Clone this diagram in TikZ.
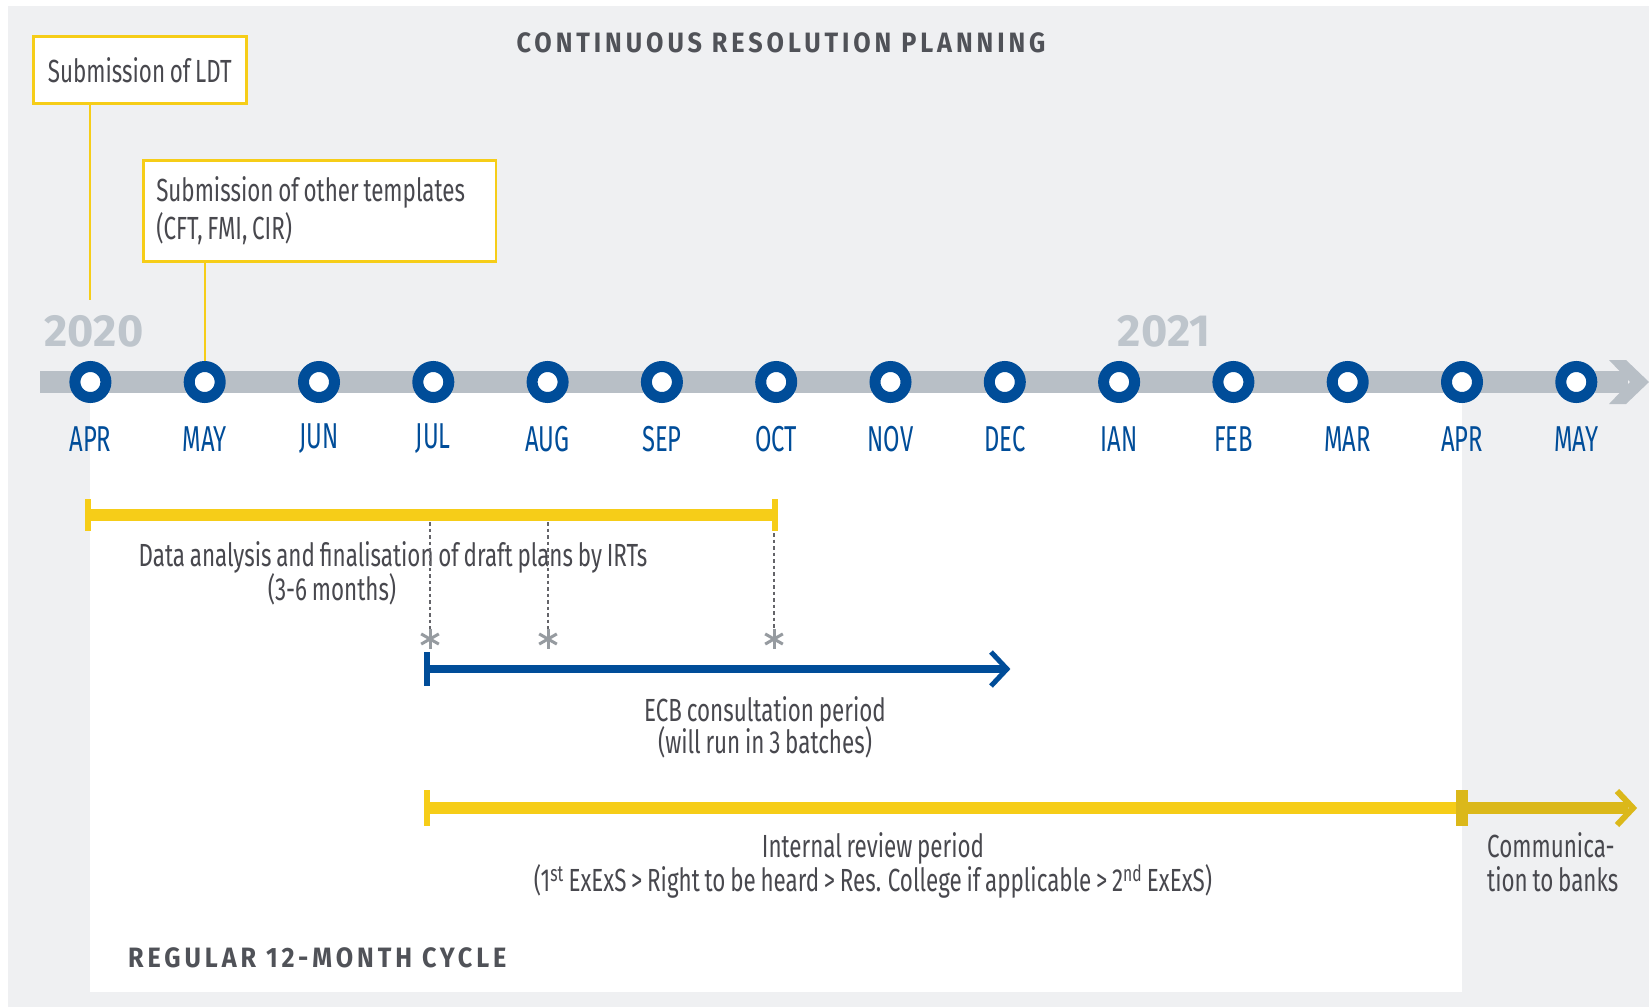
\documentclass[tikz,border=0pt]{standalone}
\usepackage{fontspec}
\setmainfont{Fira Sans}
\newfontfamily\condf[FakeStretch=0.70,WordSpace=0.8]{Fira Sans}
\newfontfamily\monthf[FakeStretch=0.66]{Fira Sans}
\newfontfamily\headf[FakeStretch=0.9,LetterSpace=14]{Fira Sans}
\newfontfamily\yearf{Fira Sans}
\definecolor{bggray}{RGB}{239,240,242}
\definecolor{bargray}{RGB}{184,191,198}
\definecolor{yeargray}{RGB}{190,197,204}
\definecolor{ecbblue}{RGB}{0,77,153}
\definecolor{ecbyellow}{RGB}{246,205,24}
\definecolor{ecbgold}{RGB}{219,184,26}
\definecolor{txt}{RGB}{72,72,78}
\definecolor{headtxt}{RGB}{80,82,88}
\definecolor{dashgray}{RGB}{100,100,105}
\definecolor{stargray}{RGB}{150,155,160}
\begin{document}
\begin{tikzpicture}[x=1pt,y=-1pt,
  body/.style={font=\condf\fontsize{32}{34}\selectfont, text=txt, inner sep=0pt},
  mlabel/.style={font=\monthf\fontsize{36}{36}\selectfont, text=ecbblue, inner sep=0pt},
  head/.style={font=\headf\bfseries\fontsize{28}{28}\selectfont, text=headtxt, inner sep=0pt},
  year/.style={font=\yearf\bfseries\fontsize{45}{45}\selectfont, text=yeargray, inner sep=0pt},
  mcircle/.style={circle, draw=ecbblue, line width=11pt, fill=white, minimum size=31pt, inner sep=0pt},
  ybox/.style={draw=ecbyellow, line width=2.5pt, fill=white, text=txt},
  boxline/.style={draw=ecbyellow, line width=2pt},
  ybar/.style={draw=ecbyellow, line width=12pt},
  gbar/.style={draw=ecbgold, line width=12pt},
  bbar/.style={draw=ecbblue, line width=8pt},
  ytick/.style={draw=ecbyellow, line width=6pt},
  btick/.style={draw=ecbblue, line width=6pt},
  dashline/.style={draw=dashgray, line width=1.3pt, dash pattern=on 3.5pt off 3pt},
  astk/.style={circle, minimum size=20pt, inner sep=0pt},
  astline/.style={draw=stargray, line width=3pt}
]
\useasboundingbox (0,0) rectangle (1649,1007);
\fill[white] (0,0) rectangle (1649,1007);
\fill[bggray] (8,6) rectangle (1649,1007);
\fill[white] (90.4,393) rectangle (1461.7,992);

% titles
\node[head, anchor=base] (title) at (781,52) {CONTINUOUS RESOLUTION PLANNING};
\node[head, anchor=base west] (cycle) at (128,967) {REGULAR 12-MONTH CYCLE};

% years
\node[year, anchor=base] (y2020) at (94,346) {2020};
\node[year, anchor=base] (y2021) at (1164,346) {2021};

% timeline bar
\coordinate (tl0) at (40,382);
\coordinate (tl1) at (1628,382);
\draw[bargray, line width=22pt] (tl0) -- (tl1);
\fill[bargray] (1609,360) -- (1626,360) -- (1649,382) -- (1626,404) -- (1609,404) -- (1630,382) -- cycle;

% boxes
\node[ybox, anchor=north west, minimum width=213pt, minimum height=67pt,
      font=\condf\fontsize{32}{34}\selectfont] (ldt) at (32,35) {Submission of LDT};
\node[ybox, anchor=north west, minimum width=351pt, minimum height=101pt,
      inner xsep=13pt, align=left,
      font=\condf\fontsize{32}{38}\selectfont] (oth) at (142,159)
      {Submission of other templates\hspace*{18pt}\\(CFT, FMI, CIR)};

% months
\foreach \i/\lab in {1/APR,2/MAY,3/JUN,4/JUL,5/AUG,6/SEP,7/OCT,8/NOV,9/DEC,10/IAN,11/FEB,12/MAR,13/APR,14/MAY}{
  \node[mcircle] (m\i) at ({90.4+114.3*(\i-1)},382) {};
  \node[mlabel] (l\i) at ({90.4+114.3*(\i-1)},439) {\lab};
}

% box connectors
\coordinate (ldtend) at (90.4,300);
\draw[boxline] (ldt.south -| ldtend) -- (ldtend);
\draw[boxline] (oth.south -| m2) -- (m2.north);

% data analysis bar
\coordinate (da0) at (88,515);
\coordinate (da1) at (775,515);
\draw[ybar] (da0) -- (da1);
\draw[ytick] (88,499) -- (88,531);
\draw[ytick] (775,499) -- (775,531);
\node[body, anchor=base] (dat1) at (393,566) {Data analysis and finalisation of draft plans by IRTs};
\node[body, anchor=base] (dat2) at (332,600) {(3-6 months)};

% batches
\node[astk] (s1) at (430,639) {};
\node[astk] (s2) at (548,639) {};
\node[astk] (s3) at (774,639) {};
\coordinate (d1) at (430,522);
\coordinate (d2) at (548,522);
\coordinate (d3) at (774,533);
\draw[dashline] (d1) -- (s1.north);
\draw[dashline] (d2) -- (s2.north);
\draw[dashline] (d3) -- (s3.north);
\foreach \s in {s1,s2,s3}{
  \foreach \a/\b in {90/270,30/210,150/330}{
    \draw[astline] (\s.\a) -- (\s.\b);
  }
}

% ECB consultation arrow
\coordinate (ecb0) at (427,669);
\coordinate (ecb1) at (1005,669);
\draw[bbar] (ecb0) -- (ecb1);
\draw[btick] (427,652) -- (427,686);
\draw[ecbblue, line width=5pt, line join=miter] (991,652) -- (1007,669) -- (991,686);
\node[body, anchor=base] (ecbt1) at (765,721) {ECB consultation period};
\node[body, anchor=base] (ecbt2) at (765,753) {(will run in 3 batches)};

% internal review bar
\coordinate (ir0) at (427,808);
\coordinate (ir1) at (1462,808);
\coordinate (ir2) at (1628,808);
\draw[ybar] (ir0) -- (ir1);
\draw[ytick] (427,790) -- (427,826);
\draw[gbar] (ir1) -- (ir2);
\draw[ecbgold, line width=12pt] (1462,790) -- (1462,826);
\draw[ecbgold, line width=6pt, line join=miter] (1617,791) -- (1633,808) -- (1617,825);
\node[body, anchor=base] (irt1) at (873,857) {Internal review period};
\node[body, anchor=base] (irt2) at (873,891) {(1\textsuperscript{st} ExExS > Right to be heard > Res. College if applicable > 2\textsuperscript{nd} ExExS)};
\node[body, anchor=base west] (com1) at (1487,857) {Communica-};
\node[body, anchor=base west] (com2) at (1487,891) {tion to banks};
\end{tikzpicture}
\end{document}
